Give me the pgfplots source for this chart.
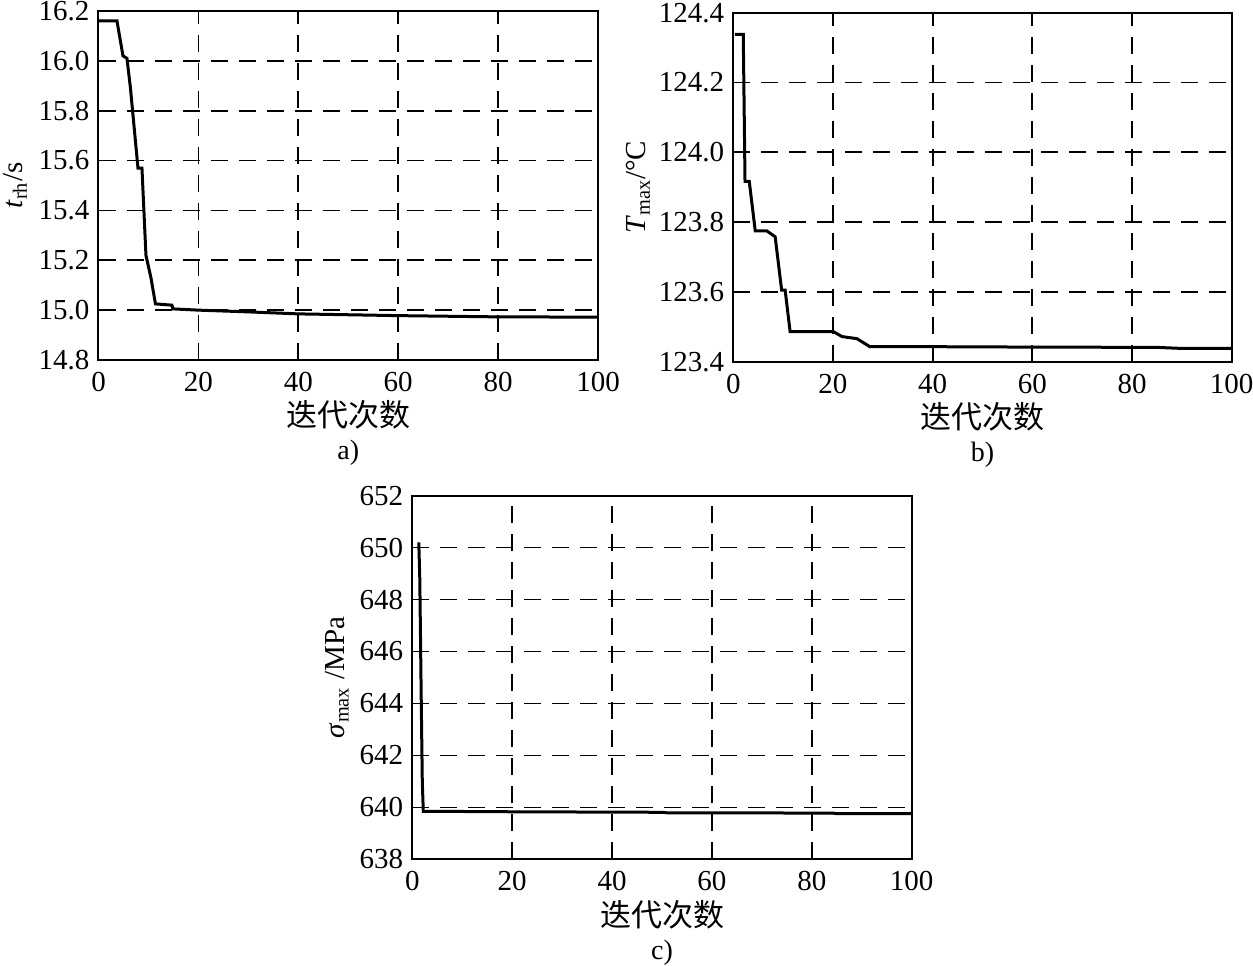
\documentclass[border=0pt]{standalone}
\usepackage{fontspec}
\setmainfont{Liberation Serif}
\newfontfamily\cjk{Noto Sans CJK SC}
\usepackage{pgfplots}
\pgfplotsset{compat=1.18}
\pgfplotsset{myax/.style={
  scale only axis, anchor=south west,
  xmin=0, xmax=100, xtick={0,20,...,100},
  grid=major,
  major grid style={black, line width=0.85pt, dash pattern=on 8.5pt off 5.5pt},
  axis line style={line width=1pt},
  major tick length=0pt,
  tick label style={font=\fontsize{14.5}{16}\selectfont},
  xticklabel style={yshift=-2.5pt},
  yticklabel style={xshift=-1pt},
  /pgf/number format/assume math mode=true,
  xlabel={\cjk\fontsize{15.5}{18}\selectfont 迭代次数},
  xlabel style={at={(axis description cs:0.5,0)}, anchor=center, yshift=-27.5pt},
  ylabel style={font=\fontsize{14.5}{16}\selectfont},
}}
\pgfplotstableread{
x y
0 16.16
3.7 16.16
4.9 16.02
5.7 16.01
6.4 15.89
7.9 15.57
8.7 15.57
9.5 15.22
10.5 15.13
11.4 15.025
14.7 15.02
14.9 15.005
20 15.0
30 14.993
40 14.985
60 14.978
80 14.973
100 14.972
}\dataA
\pgfplotstableread{
x y
0.3 124.338
2.0 124.338
2.35 123.917
3.2 123.917
4.4 123.775
6.7 123.775
8.4 123.758
9.7 123.605
10.4 123.605
11.4 123.486
20.1 123.486
21.8 123.472
24.8 123.466
27.4 123.443
40 123.443
57 123.442
85 123.441
90 123.438
100 123.438
}\dataB
\pgfplotstableread{
x y
1.3 650.2
1.5 648.8
1.8 644
2.0 641
2.2 639.85
20 639.83
50 639.81
51 639.79
84 639.78
85 639.76
100 639.76
}\dataC
\begin{document}
\begin{tikzpicture}[font=\fontsize{14}{16}\selectfont]
\useasboundingbox (0,0) rectangle (626.5pt,482.5pt);
% panel a
\begin{axis}[myax, name=A, at={(49.25pt,302.5pt)}, width=249.75pt, height=174.5pt,
  ymin=14.8, ymax=16.2, ytick={14.8,15.0,...,16.21},
  yticklabel style={/pgf/number format/.cd, fixed, fixed zerofill, precision=1},
  ylabel={\textit{t}\textsubscript{rh}/s},
  ylabel style={at={(axis description cs:-0.167,0.5)}, anchor=center}]
\addplot[black, line width=1.5pt, mark=none] table {\dataA};
\end{axis}
\node at ([yshift=-46.5pt]A.south) {a)};
% panel b
\begin{axis}[myax, name=B, at={(366.65pt,301.65pt)}, width=249.2pt, height=174.5pt,
  ymin=123.4, ymax=124.4, ytick={123.4,123.6,...,124.41},
  yticklabel style={/pgf/number format/.cd, fixed, fixed zerofill, precision=1},
  ylabel={\textit{T}\textsubscript{max}/°C},
  ylabel style={at={(axis description cs:-0.191,0.5)}, anchor=center}]
\addplot[black, line width=1.5pt, mark=none] table {\dataB};
\end{axis}
\node at ([yshift=-46.5pt]B.south) {b)};
% panel c
\begin{axis}[myax, name=C, at={(206.15pt,52.85pt)}, width=249.7pt, height=181.8pt,
  ymin=638, ymax=652, ytick={638,640,...,652},
  ylabel={\textit{σ}\textsubscript{max} /MPa},
  ylabel style={at={(axis description cs:-0.1506,0.5)}, anchor=center}]
\addplot[black, line width=1.5pt, mark=none] table {\dataC};
\end{axis}
\node at ([yshift=-46.5pt]C.south) {c)};
\end{tikzpicture}
\end{document}
